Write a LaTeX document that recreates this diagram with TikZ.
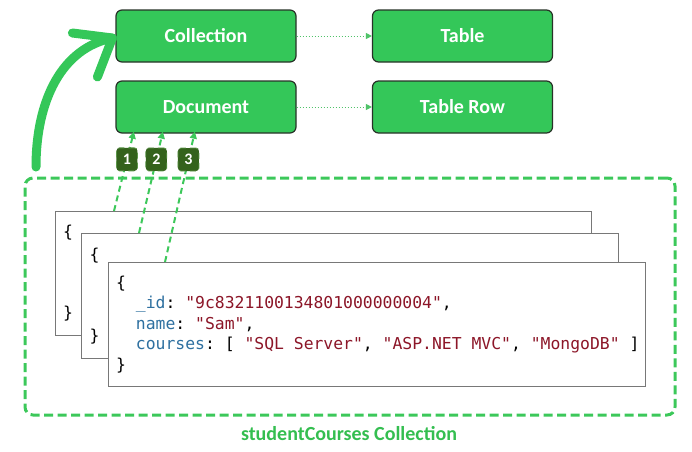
\documentclass[tikz,border=0pt]{standalone}
\usepackage{fontspec}
\setmainfont{Carlito}
\setmonofont{DejaVu Sans Mono}
\usetikzlibrary{arrows.meta,calc}
\definecolor{gfill}{RGB}{52,199,89}
\definecolor{boxline}{RGB}{40,50,40}
\definecolor{cardline}{RGB}{120,120,120}
\definecolor{badgec}{RGB}{52,98,28}
\definecolor{badgeline}{RGB}{90,150,70}
\definecolor{dashc}{RGB}{60,200,90}
\definecolor{dotc}{RGB}{80,195,105}
\definecolor{keyc}{RGB}{46,112,160}
\definecolor{strc}{RGB}{140,22,40}
\definecolor{lblc}{RGB}{52,190,80}
\begin{document}
\begin{tikzpicture}[x=1pt,y=-1pt,
  gbox/.style={draw=boxline, line width=1.2pt, fill=gfill, rounded corners=6pt,
    minimum width=180pt, minimum height=52pt, inner sep=0, text=white,
    font=\bfseries\fontsize{20}{24}\selectfont},
  card/.style={draw=cardline, line width=1.2pt, fill=white, anchor=north west, inner sep=0},
  code/.style={anchor=base west, inner sep=0,
    font=\ttfamily\fontsize{16.4}{20}\selectfont\frenchspacing},
  badge/.style={fill=badgec, draw=badgeline, line width=0.8pt, rounded corners=3pt,
    minimum width=21pt, minimum height=23pt, inner sep=0, text=white,
    font=\bfseries\fontsize{16}{18}\selectfont},
  dotconn/.style={draw=dotc, line width=1pt, dash pattern=on 1.5pt off 1.5pt,
    -{Triangle[length=6pt,width=6pt]}},
  docconn/.style={draw=dashc, line width=2pt, dash pattern=on 6pt off 4pt,
    -{Triangle[length=7pt,width=7pt]}, shorten >=-2pt},
  outerframe/.style={draw=dashc, line width=3pt, dash pattern=on 9pt off 4.5pt,
    rounded corners=8pt, inner sep=0},
  bigarrow/.style={draw=gfill, line width=9pt, line cap=round, line join=round}
]
\useasboundingbox (0,0) rectangle (692,451);

% top boxes
\node[gbox] (coll) at (206,36) {Collection};
\node[gbox] (doc) at (206,107) {Document};
\node[gbox] (tab) at (462.5,36) {Table};
\node[gbox] (row) at (462.5,107) {Table Row};
\draw[dotconn] (coll.east) -- (tab.west);
\draw[dotconn] (doc.east) -- (row.west);

% outer collection frame
\node[outerframe, minimum width=650pt, minimum height=237pt] (frame) at (350,296.5) {};
\node[inner sep=0, text=lblc, font=\bfseries\fontsize{20}{24}\selectfont] (lbl) at (349,434) {studentCourses Collection};

% cards
\node[card, minimum width=536pt, minimum height=124pt] (card1) at (55,211) {};
\node[code] (c1a) at (63,237) {\{};
\node[code] (c1b) at (63,318) {\}};
\node[card, minimum width=537pt, minimum height=125pt] (card2) at (81,233) {};
\node[code] (c2a) at (89.5,260) {\{};
\node[code] (c2b) at (89.5,341) {\}};
\node[card, minimum width=537pt, minimum height=124pt] (card3) at (108,262) {};
\node[code] (c3a) at (116,288) {\{};
\node[code] (c3b) at (135.7,308.5) {\textcolor{keyc}{\_id}: \textcolor{strc}{"9c8321100134801000000004"},};
\node[code] (c3c) at (135.7,329) {\textcolor{keyc}{name}: \textcolor{strc}{"Sam"},};
\node[code] (c3d) at (135.7,349.5) {\textcolor{keyc}{courses}: [ \textcolor{strc}{"SQL Server"}, \textcolor{strc}{"ASP.NET MVC"}, \textcolor{strc}{"MongoDB"} ]};
\node[code] (c3e) at (116,370) {\}};

% connectors from documents to Document
\coordinate (s1) at ($(card1.north west)+(59,0)$);
\coordinate (s2) at ($(card2.north west)+(58,0)$);
\coordinate (s3) at ($(card3.north west)+(57,0)$);
\coordinate (e1) at ($(doc.south west)+(18,0)$);
\coordinate (e2) at ($(doc.south west)+(47,0)$);
\coordinate (e3) at ($(doc.south west)+(79,0)$);
\draw[docconn] (s1) -- node[badge, pos=0.667, sloped=false] (b1) {1} (e1);
\draw[docconn] (s2) -- node[badge, pos=0.74] (b2) {2} (e2);
\draw[docconn] (s3) -- node[badge, pos=0.798] (b3) {3} (e3);

% big curved arrow from the collection frame to Collection
\coordinate (as) at (36,167);
\coordinate (at) at ($(coll.west)+(-3,2)$);
\draw[bigarrow] (as) .. controls (36,100) and (62,48) .. (at);
\draw[bigarrow] ($(at)+(-40,-5)$) -- (at) -- ($(at)+(-15,39)$);
\end{tikzpicture}
\end{document}
